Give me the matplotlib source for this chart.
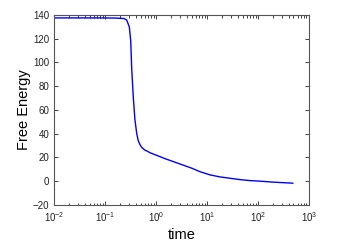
import matplotlib
matplotlib.use('Agg')
import matplotlib.pyplot as plt
import numpy as np

# values
time = [0.01, 0.05, 0.15, 0.236, 0.266, 0.30, 0.32, 0.334, 0.36, 0.387, 0.42,
        0.45, 0.49, 0.525, 0.60, 0.70, 0.76, 1.0, 1.5, 2.36, 3.43, 5.0, 7.3,
        11.5, 18.0, 28.0, 45.0, 70.0, 110.0, 200.0, 485.0]
energy = [137.5, 137.5, 137.4, 137.0, 135.8, 130.0, 118.0, 95.0, 70.0, 51.6,
          40.0, 34.0, 30.5, 28.5, 26.3, 24.9, 24.0, 22.0, 19.0, 16.0, 13.5,
          11.0, 8.0, 5.3, 3.6, 2.5, 1.3, 0.5, 0.0, -0.8, -1.7]

plt.rcParams['font.family'] = 'Liberation Sans'
plt.rcParams['mathtext.fontset'] = 'custom'
plt.rcParams['mathtext.rm'] = 'Liberation Sans'
plt.rcParams['mathtext.it'] = 'Liberation Sans'

fig = plt.figure(figsize=(3.42, 2.49), dpi=100)
ax = fig.add_axes([0.158, 0.177, 0.745, 0.763])

ax.plot(time, energy, color='#0000ff', linewidth=1.0)

ax.set_xscale('log')
ax.set_xlim(1e-2, 1e3)
ax.set_ylim(-20, 140)
ax.set_yticks(np.arange(-20, 141, 20))

for s in ax.spines.values():
    s.set_color('#555555')
    s.set_linewidth(0.8)
ax.tick_params(which='both', direction='in', top=True, right=True,
               labelsize=7, colors='#222222', width=0.6)
ax.tick_params(which='major', length=3)
ax.tick_params(which='minor', length=1.8)

ax.set_xlabel('time', fontsize=10.5, labelpad=3)
ax.set_ylabel('Free Energy', fontsize=10.5, labelpad=1)

fig.savefig('out.png', dpi=100)
